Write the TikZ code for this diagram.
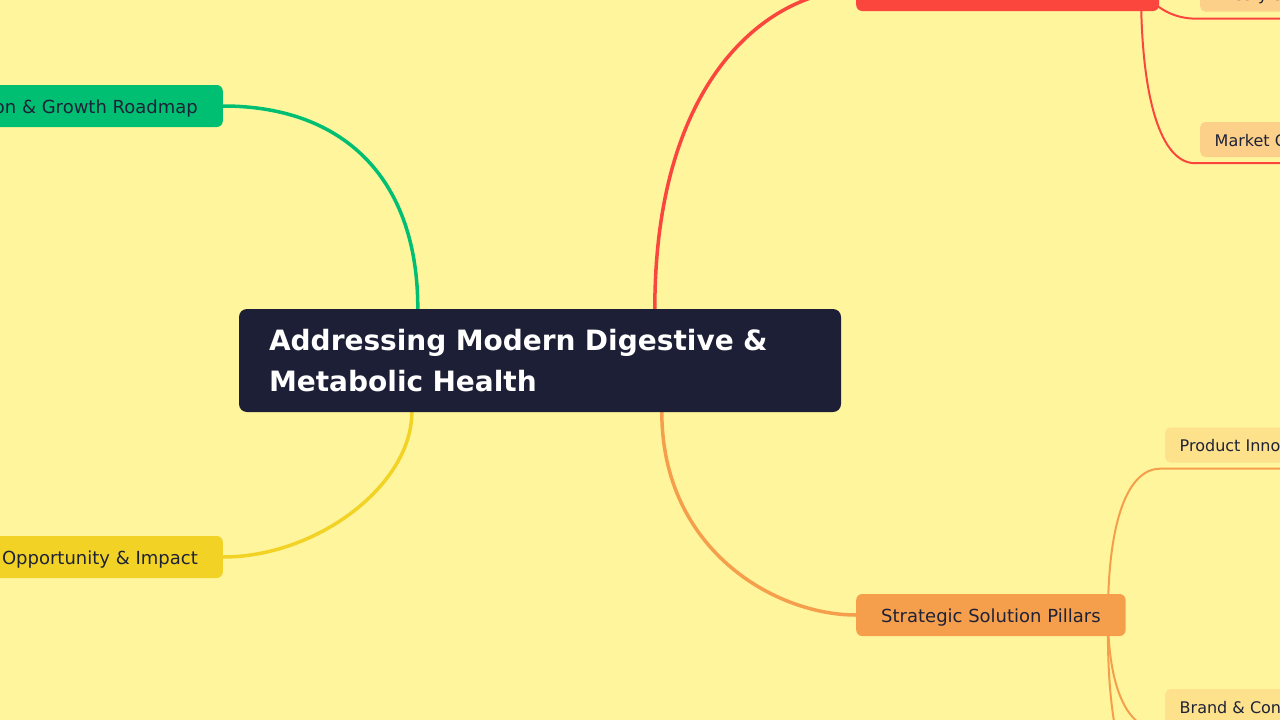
\documentclass[tikz,border=0pt]{standalone}
\usepackage{fontspec}
\setmainfont{DejaVu Sans}
\usetikzlibrary{calc}
\definecolor{bgc}{HTML}{FFF59D}
\definecolor{rootc}{HTML}{1C1F36}
\definecolor{greenc}{HTML}{00BF73}
\definecolor{yellowc}{HTML}{F2D325}
\definecolor{redc}{HTML}{FB463E}
\definecolor{orangec}{HTML}{F59F4D}
\definecolor{peachr}{HTML}{FDD08A}
\definecolor{peacho}{HTML}{FEE18B}
\definecolor{ink}{HTML}{1E2237}
\pgfdeclarelayer{back}
\pgfdeclarelayer{links}
\pgfsetlayers{back,links,main}
\begin{document}
\begin{tikzpicture}[x=1pt,y=-1pt,
  rootbox/.style={fill=rootc, rounded corners=8pt, text=white,
    font=\fontsize{28}{41.7}\selectfont\bfseries, text width=542pt, align=left,
    inner xsep=30pt, inner ysep=0pt, minimum height=103pt, minimum width=602pt},
  branchbox/.style={rounded corners=6pt, font=\fontsize{18}{22}\selectfont,
    text height=14pt, text depth=0pt, inner xsep=25pt, inner ysep=0pt,
    minimum height=42pt, text=ink},
  leafbox/.style={rounded corners=5pt, font=\fontsize{16}{19}\selectfont,
    text height=13pt, text depth=0pt, inner xsep=14.5pt, inner ysep=0pt,
    minimum height=35pt, text=ink},
  mainlink/.style={line width=3.5pt},
  sublink/.style={line width=2pt}]
\useasboundingbox (0,0) rectangle (1280,720);
\begin{pgfonlayer}{back}
  \fill[bgc] (0,0) rectangle (1280,720);
\end{pgfonlayer}
\clip (0,0) rectangle (1280,720);

% nodes
\node[rootbox] (root) at (540,360.5) {Addressing Modern Digestive \&\\Metabolic Health};
\node[branchbox, fill=greenc, anchor=east] (green) at (223,106) {Execution \& Growth Roadmap};
\node[branchbox, fill=yellowc, anchor=east] (yellow) at (223,557) {Market Opportunity \& Impact};
\node[branchbox, fill=redc, text=white, anchor=west, inner xsep=23.5pt] (red) at (856,-10) {Problem Landscape Analysis};
\node[branchbox, fill=orangec, anchor=west] (orange) at (856,615) {Strategic Solution Pillars};

\node[leafbox, fill=peachr, anchor=west] (life) at (1200,-6) {Lifestyle Factors};
\node[leafbox, fill=peachr, anchor=west] (market) at (1200,139.5) {Market Context};
\node[leafbox, fill=peacho, anchor=west] (product) at (1165,445) {Product Innovation};
\node[leafbox, fill=peacho, anchor=west] (brand) at (1165,706.5) {Brand \& Consumer Trust};

\coordinate (rc) at (1141,-10);
\coordinate (oc) at (1108,615);
\coordinate (farend) at (1160,800);
\coordinate (farright) at (1320,800);

\begin{pgfonlayer}{links}
  % main branches
  \draw[mainlink, greenc] ($(root.north west)+(179,0)$) .. controls (418,181) and (346,106) .. (green.east);
  \draw[mainlink, redc] ($(root.north west)+(416,0)$) .. controls (655,70) and (776,-10) .. (red.west);
  \draw[mainlink, yellowc] ($(root.south west)+(173,0)$) .. controls (412,484.5) and (317.5,557) .. (yellow.east);
  \draw[mainlink, orangec] ($(root.south west)+(423,0)$) .. controls (662,550) and (775,615) .. (orange.west);
  % red children
  \draw[sublink, redc] (rc) .. controls (1150,0) and (1165,18) .. ($(life.south west)+(-5,7)$) -- ($(life.south east)+(0,7)$);
  \draw[sublink, redc] (rc) .. controls (1141,99) and (1161,163) .. ($(market.south west)+(-5,6)$) -- ($(market.south east)+(0,6)$);
  % orange children
  \draw[sublink, orangec] (oc) .. controls (1108,523) and (1127,469) .. ($(product.south west)+(-5,6)$) -- ($(product.south east)+(0,6)$);
  \draw[sublink, orangec] (oc) .. controls (1108,687) and (1127,730) .. ($(brand.south west)+(-5,6)$) -- ($(brand.south east)+(0,6)$);
  \draw[sublink, orangec] (oc) .. controls (1106,732) and (1126,800) .. (farend) -- (farright);
\end{pgfonlayer}
\end{tikzpicture}
\end{document}
